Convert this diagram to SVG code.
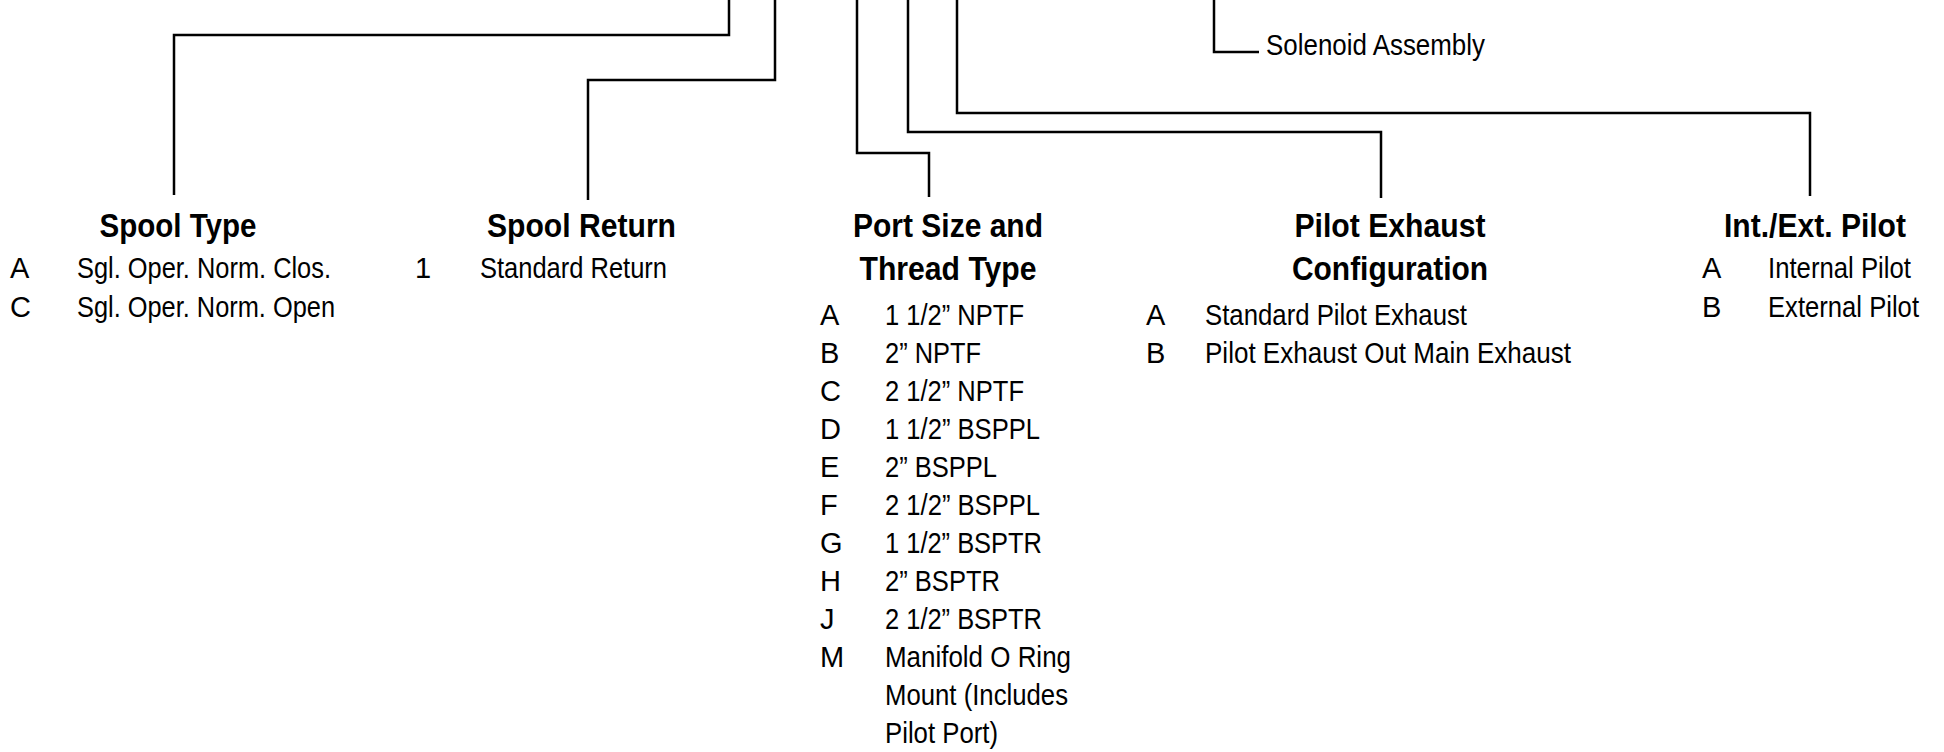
<svg xmlns="http://www.w3.org/2000/svg" width="1944" height="752" viewBox="0 0 1944 752">
<style>
.h{font-family:"Liberation Sans",Arial,Helvetica,sans-serif;font-size:34px;font-weight:bold;fill:#000;text-anchor:middle}
.t{font-family:"Liberation Sans",Arial,Helvetica,sans-serif;font-size:29px;fill:#000}
.c{fill:none;stroke:#000;stroke-width:2.5;stroke-linejoin:miter;stroke-linecap:butt}
</style>
<rect width="1944" height="752" fill="#fff"/>
<g id="connectors">
<path class="c" d="M729,0 V35 H174 V195"/>
<path class="c" d="M775,0 V80 H588 V200"/>
<path class="c" d="M857,0 V153 H929 V197"/>
<path class="c" d="M908,0 V132 H1381 V198"/>
<path class="c" d="M957,0 V113 H1810 V196"/>
<path class="c" d="M1214,0 V52 H1259"/>
</g>
<g id="solenoid-assembly">
<text class="t" x="1266" y="55" textLength="219" lengthAdjust="spacingAndGlyphs">Solenoid Assembly</text>
</g>
<g id="spool-type">
<text class="h" x="178" y="237" textLength="157" lengthAdjust="spacingAndGlyphs">Spool Type</text>
<text class="t" x="10" y="278">A</text>
<text class="t" x="77" y="278" textLength="254" lengthAdjust="spacingAndGlyphs">Sgl. Oper. Norm. Clos.</text>
<text class="t" x="10" y="317">C</text>
<text class="t" x="77" y="317" textLength="258" lengthAdjust="spacingAndGlyphs">Sgl. Oper. Norm. Open</text>
</g>
<g id="spool-return">
<text class="h" x="581.5" y="237" textLength="189" lengthAdjust="spacingAndGlyphs">Spool Return</text>
<text class="t" x="415" y="278">1</text>
<text class="t" x="480" y="278" textLength="187" lengthAdjust="spacingAndGlyphs">Standard Return</text>
</g>
<g id="port-size">
<text class="h" x="948" y="237" textLength="190" lengthAdjust="spacingAndGlyphs">Port Size and</text>
<text class="h" x="948" y="280" textLength="177" lengthAdjust="spacingAndGlyphs">Thread Type</text>
<text class="t" x="820" y="325">A</text>
<text class="t" x="885" y="325" textLength="139" lengthAdjust="spacingAndGlyphs">1 1/2” NPTF</text>
<text class="t" x="820" y="363">B</text>
<text class="t" x="885" y="363" textLength="96" lengthAdjust="spacingAndGlyphs">2” NPTF</text>
<text class="t" x="820" y="401">C</text>
<text class="t" x="885" y="401" textLength="139" lengthAdjust="spacingAndGlyphs">2 1/2” NPTF</text>
<text class="t" x="820" y="439">D</text>
<text class="t" x="885" y="439" textLength="155" lengthAdjust="spacingAndGlyphs">1 1/2” BSPPL</text>
<text class="t" x="820" y="477">E</text>
<text class="t" x="885" y="477" textLength="112" lengthAdjust="spacingAndGlyphs">2” BSPPL</text>
<text class="t" x="820" y="515">F</text>
<text class="t" x="885" y="515" textLength="155" lengthAdjust="spacingAndGlyphs">2 1/2” BSPPL</text>
<text class="t" x="820" y="553">G</text>
<text class="t" x="885" y="553" textLength="157" lengthAdjust="spacingAndGlyphs">1 1/2” BSPTR</text>
<text class="t" x="820" y="591">H</text>
<text class="t" x="885" y="591" textLength="115" lengthAdjust="spacingAndGlyphs">2” BSPTR</text>
<text class="t" x="820" y="629">J</text>
<text class="t" x="885" y="629" textLength="157" lengthAdjust="spacingAndGlyphs">2 1/2” BSPTR</text>
<text class="t" x="820" y="667">M</text>
<text class="t" x="885" y="667" textLength="186" lengthAdjust="spacingAndGlyphs">Manifold O Ring</text>
<text class="t" x="885" y="705" textLength="183" lengthAdjust="spacingAndGlyphs">Mount (Includes</text>
<text class="t" x="885" y="743" textLength="113" lengthAdjust="spacingAndGlyphs">Pilot Port)</text>
</g>
<g id="pilot-exhaust">
<text class="h" x="1390" y="237" textLength="191" lengthAdjust="spacingAndGlyphs">Pilot Exhaust</text>
<text class="h" x="1390" y="280" textLength="196" lengthAdjust="spacingAndGlyphs">Configuration</text>
<text class="t" x="1146" y="325">A</text>
<text class="t" x="1205" y="325" textLength="262" lengthAdjust="spacingAndGlyphs">Standard Pilot Exhaust</text>
<text class="t" x="1146" y="363">B</text>
<text class="t" x="1205" y="363" textLength="366" lengthAdjust="spacingAndGlyphs">Pilot Exhaust Out Main Exhaust</text>
</g>
<g id="int-ext-pilot">
<text class="h" x="1815" y="237" textLength="182" lengthAdjust="spacingAndGlyphs">Int./Ext. Pilot</text>
<text class="t" x="1702" y="278">A</text>
<text class="t" x="1768" y="278" textLength="143" lengthAdjust="spacingAndGlyphs">Internal Pilot</text>
<text class="t" x="1702" y="317">B</text>
<text class="t" x="1768" y="317" textLength="151" lengthAdjust="spacingAndGlyphs">External Pilot</text>
</g>
</svg>
